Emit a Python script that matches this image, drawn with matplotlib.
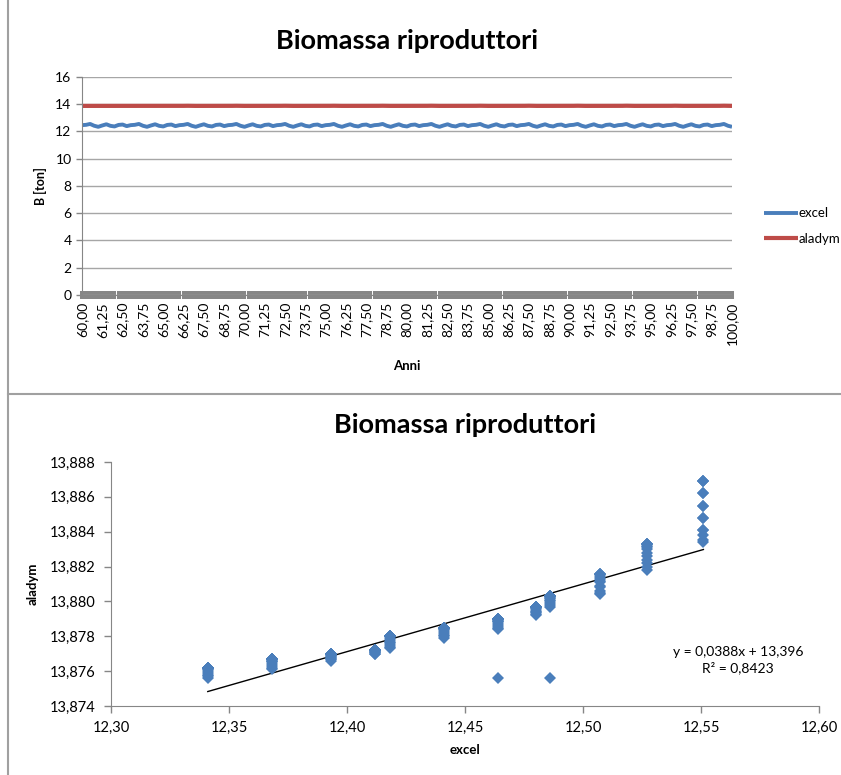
#!/usr/bin/env python3
"""Biomassa riproduttori: excel vs aladym, time series and scatter."""
import numpy as np
import matplotlib
matplotlib.use("Agg")
import matplotlib.pyplot as plt
from matplotlib.lines import Line2D

plt.rcParams["font.family"] = ["Lato", "DejaVu Sans"]

# Time axis (years, quarterly steps)
anni = np.arange(60.0, 100.001, 0.25)

# Series
excel = [
    12.464, 12.486, 12.551, 12.418, 12.341, 12.441, 12.527, 12.412, 12.368, 12.480, 12.507, 12.393,
    12.464, 12.486, 12.551, 12.418, 12.341, 12.441, 12.527, 12.412, 12.368, 12.480, 12.507, 12.393,
    12.464, 12.486, 12.551, 12.418, 12.341, 12.441, 12.527, 12.412, 12.368, 12.480, 12.507, 12.393,
    12.464, 12.486, 12.551, 12.418, 12.341, 12.441, 12.527, 12.412, 12.368, 12.480, 12.507, 12.393,
    12.464, 12.486, 12.551, 12.418, 12.341, 12.441, 12.527, 12.412, 12.368, 12.480, 12.507, 12.393,
    12.464, 12.486, 12.551, 12.418, 12.341, 12.441, 12.527, 12.412, 12.368, 12.480, 12.507, 12.393,
    12.464, 12.486, 12.551, 12.418, 12.341, 12.441, 12.527, 12.412, 12.368, 12.480, 12.507, 12.393,
    12.464, 12.486, 12.551, 12.418, 12.341, 12.441, 12.527, 12.412, 12.368, 12.480, 12.507, 12.393,
    12.464, 12.486, 12.551, 12.418, 12.341, 12.441, 12.527, 12.412, 12.368, 12.480, 12.507, 12.393,
    12.464, 12.486, 12.551, 12.418, 12.341, 12.441, 12.527, 12.412, 12.368, 12.480, 12.507, 12.393,
    12.464, 12.486, 12.551, 12.418, 12.341, 12.441, 12.527, 12.412, 12.368, 12.480, 12.507, 12.393,
    12.464, 12.486, 12.551, 12.418, 12.341, 12.441, 12.527, 12.412, 12.368, 12.480, 12.507, 12.393,
    12.464, 12.486, 12.551, 12.418, 12.341, 12.441, 12.527, 12.412, 12.368, 12.480, 12.507, 12.393,
    12.464, 12.486, 12.551, 12.418, 12.341,
]
aladym = [
    13.8756, 13.8756, 13.8834, 13.8773, 13.8756, 13.8779, 13.8818, 13.8770, 13.8761, 13.8792, 13.8804, 13.8766,
    13.8784, 13.8797, 13.8835, 13.8774, 13.8757, 13.8780, 13.8820, 13.8770, 13.8762, 13.8793, 13.8805, 13.8767,
    13.8785, 13.8798, 13.8838, 13.8775, 13.8758, 13.8781, 13.8822, 13.8771, 13.8763, 13.8794, 13.8806, 13.8767,
    13.8786, 13.8799, 13.8841, 13.8776, 13.8759, 13.8782, 13.8824, 13.8771, 13.8764, 13.8794, 13.8808, 13.8768,
    13.8787, 13.8800, 13.8841, 13.8777, 13.8760, 13.8783, 13.8826, 13.8771, 13.8765, 13.8795, 13.8809, 13.8768,
    13.8788, 13.8801, 13.8848, 13.8778, 13.8761, 13.8784, 13.8828, 13.8772, 13.8766, 13.8796, 13.8811, 13.8769,
    13.8789, 13.8802, 13.8848, 13.8779, 13.8761, 13.8784, 13.8830, 13.8772, 13.8766, 13.8796, 13.8812, 13.8769,
    13.8789, 13.8802, 13.8855, 13.8780, 13.8762, 13.8785, 13.8831, 13.8772, 13.8767, 13.8797, 13.8813, 13.8770,
    13.8790, 13.8803, 13.8855, 13.8780, 13.8762, 13.8785, 13.8832, 13.8772, 13.8767, 13.8797, 13.8814, 13.8770,
    13.8790, 13.8803, 13.8862, 13.8780, 13.8762, 13.8785, 13.8833, 13.8772, 13.8767, 13.8797, 13.8815, 13.8770,
    13.8790, 13.8803, 13.8862, 13.8780, 13.8762, 13.8785, 13.8833, 13.8772, 13.8767, 13.8797, 13.8816, 13.8770,
    13.8790, 13.8803, 13.8869, 13.8780, 13.8762, 13.8785, 13.8833, 13.8772, 13.8767, 13.8797, 13.8816, 13.8770,
    13.8790, 13.8803, 13.8869, 13.8780, 13.8762, 13.8785, 13.8833, 13.8772, 13.8767, 13.8797, 13.8816, 13.8770,
    13.8790, 13.8803, 13.8869, 13.8780, 13.8762,
]

# Linear trend shown on the scatter
slope = 0.0388
intercept = 13.396
r2 = 0.8423

BLUE = "#4A7EBB"
RED = "#BE4B48"
GRAY = "#868686"
GRID = "#A6A6A6"


def comma(v, dec):
    return f"{v:.{dec}f}".replace(".", ",")


fig = plt.figure(figsize=(8.41, 7.75), dpi=100)

# Panel borders
fig.add_artist(Line2D([8 / 841, 8 / 841], [0, 1], color="#A0A0A0", lw=1.5))
fig.add_artist(Line2D([8 / 841, 1], [1 - 394 / 775] * 2, color="#A0A0A0", lw=1.5))

# ---- Top chart: time series ----
ax1 = fig.add_axes([0.0975, 0.6194, 0.7729, 0.2813])
pos = np.arange(len(anni))
ax1.plot(pos, excel, color=BLUE, lw=2.8, label="excel", solid_capstyle="butt")
ax1.plot(pos, aladym, color=RED, lw=3.0, label="aladym", solid_capstyle="butt")

ax1.set_xlim(0, len(anni) - 1)
ax1.set_ylim(0, 16)
ax1.set_yticks(np.arange(0, 17, 2))
ax1.yaxis.grid(True, color=GRID, lw=1.0)
ax1.set_axisbelow(True)
for s in ["top", "right"]:
    ax1.spines[s].set_visible(False)
ax1.spines["left"].set_color(GRAY)
ax1.spines["bottom"].set_color(GRAY)
ax1.set_xticks(pos)
ax1.set_xticklabels([comma(a, 2) if i % 5 == 0 else "" for i, a in enumerate(anni)],
                    rotation=90, fontsize=10)
ax1.tick_params(axis="x", direction="inout", length=6, width=2.9, color=GRAY, pad=2)
ax1.tick_params(axis="y", direction="out", length=4, width=1, color=GRAY, labelsize=10)
ax1.set_title("Biomassa riproduttori", fontsize=19.5, fontweight="bold", pad=20)
ax1.set_ylabel("B [ton]", fontsize=9, fontweight="bold", labelpad=6)
ax1.set_xlabel("Anni", fontsize=9.5, fontweight="bold", labelpad=11)
fig.legend(loc="center left", bbox_to_anchor=(752 / 841, 1 - 226 / 775), frameon=False,
           fontsize=9.5, handlelength=2.6, handletextpad=0.0, labelspacing=1.0)

# ---- Bottom chart: scatter ----
ax2 = fig.add_axes([0.132, 0.0890, 0.8419, 0.3149])
ax2.plot(excel, aladym, "D", color=BLUE, markersize=6.2, markeredgewidth=0, zorder=3)
xt = np.array([min(excel), max(excel)])
ax2.plot(xt, slope * xt + intercept, color="black", lw=1.0, zorder=2)

ax2.set_xlim(12.30, 12.60)
ax2.set_ylim(13.874, 13.888)
ax2.set_xticks(np.arange(12.30, 12.601, 0.05))
ax2.set_xticklabels([comma(v, 2) for v in np.arange(12.30, 12.601, 0.05)])
ax2.set_yticks(np.arange(13.874, 13.8881, 0.002))
ax2.set_yticklabels([comma(v, 3) for v in np.arange(13.874, 13.8881, 0.002)])
for s in ["top", "right"]:
    ax2.spines[s].set_visible(False)
ax2.spines["left"].set_color(GRAY)
ax2.spines["bottom"].set_color(GRAY)
ax2.tick_params(direction="out", length=5, width=1, color=GRAY, labelsize=10.5, pad=6)
ax2.set_title("Biomassa riproduttori", fontsize=19.5, fontweight="bold", pad=21)
ax2.set_ylabel("aladym", fontsize=9.5, fontweight="bold", labelpad=8)
ax2.set_xlabel("excel", fontsize=9.5, fontweight="bold", labelpad=6)
ax2.text(0.8856, 0.189, f"y = {comma(slope, 4)}x + {comma(intercept, 3)}\nR² = {comma(r2, 4)}",
         transform=ax2.transAxes, ha="center", va="center", fontsize=10, linespacing=1.3)

fig.savefig("out.png", dpi=100)
